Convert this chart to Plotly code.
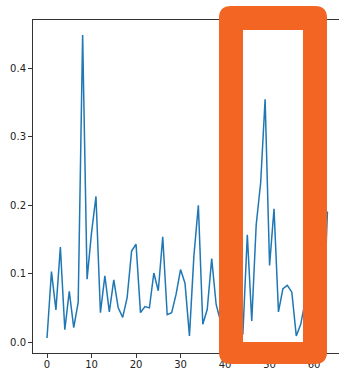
import plotly.graph_objects as go

# ---- data ----
x_vals = list(range(64))
y_vals = [
    0.006, 0.103, 0.047, 0.139, 0.018, 0.074, 0.021, 0.058, 0.449, 0.092,
    0.160, 0.213, 0.043, 0.097, 0.044, 0.091, 0.050, 0.036, 0.065, 0.133,
    0.143, 0.043, 0.052, 0.050, 0.101, 0.075, 0.154, 0.040, 0.043, 0.070,
    0.106, 0.086, 0.009, 0.126, 0.200, 0.026, 0.048, 0.122, 0.055, 0.030,
    0.060, 0.090, 0.050, 0.020, 0.011, 0.157, 0.031, 0.172, 0.233, 0.355,
    0.112, 0.195, 0.044, 0.078, 0.083, 0.073, 0.009, 0.026, 0.060, 0.100,
    0.040, 0.080, 0.020, 0.191,
]
x_ticks = [0, 10, 20, 30, 40, 50, 60]
y_ticks = [0.0, 0.1, 0.2, 0.3, 0.4]

W, H = 339, 370
ML, MT, MB, MR = 33, 20, 17, 0
PW, PH = W - ML - MR, H - MT - MB

fig = go.Figure()
fig.add_trace(go.Scatter(x=x_vals, y=y_vals, mode="lines",
                         line=dict(color="#1f77b4", width=1.5),
                         hoverinfo="skip", showlegend=False))

# highlight box (pixel geometry -> paper coordinates)
def px(xp):
    return (xp - ML) / PW

def py(yp):
    return (H - MB - yp) / PH

ox0, ox1, oy0, oy1, r = 219, 327, 6, 364, 12
ix0, ix1, iy0, iy1 = 243, 303, 30, 342
pts = []
pts.append(f"M{px(ox0 + r)},{py(oy0)}")
pts.append(f"L{px(ox1 - r)},{py(oy0)}")
pts.append(f"Q{px(ox1)},{py(oy0)} {px(ox1)},{py(oy0 + r)}")
pts.append(f"L{px(ox1)},{py(oy1 - r)}")
pts.append(f"Q{px(ox1)},{py(oy1)} {px(ox1 - r)},{py(oy1)}")
pts.append(f"L{px(ox0 + r)},{py(oy1)}")
pts.append(f"Q{px(ox0)},{py(oy1)} {px(ox0)},{py(oy1 - r)}")
pts.append(f"L{px(ox0)},{py(oy0 + r)}")
pts.append(f"Q{px(ox0)},{py(oy0)} {px(ox0 + r)},{py(oy0)}Z")
pts.append(f"M{px(ix0)},{py(iy0)}")
pts.append(f"L{px(ix0)},{py(iy1)}")
pts.append(f"L{px(ix1)},{py(iy1)}")
pts.append(f"L{px(ix1)},{py(iy0)}Z")
path = " ".join(pts)

fig.add_shape(type="path", path=path, xref="paper", yref="paper",
              fillcolor="#F26522", line=dict(width=0), layer="above")

axis_font = dict(family="DejaVu Sans", size=10, color="#222")
fig.update_layout(
    width=W, height=H,
    margin=dict(l=ML, r=MR, t=MT, b=MB, pad=0),
    paper_bgcolor="white", plot_bgcolor="white",
    xaxis=dict(range=[-3.15, 65.6], tickvals=x_ticks, ticktext=[str(v) for v in x_ticks],
               showgrid=False, zeroline=False, showline=True, linecolor="#333",
               linewidth=1, mirror=True, ticks="outside", ticklen=4,
               tickcolor="#333", tickwidth=1, tickfont=axis_font,
               ticklabelstandoff=-2),
    yaxis=dict(range=[-0.016, 0.471], tickvals=y_ticks,
               ticktext=[f"{v:.1f}" for v in y_ticks],
               showgrid=False, zeroline=False, showline=True, linecolor="#333",
               linewidth=1, mirror=False, ticks="outside", ticklen=4,
               tickcolor="#333", tickwidth=1, tickfont=axis_font),
)

fig.write_html("out.html")
